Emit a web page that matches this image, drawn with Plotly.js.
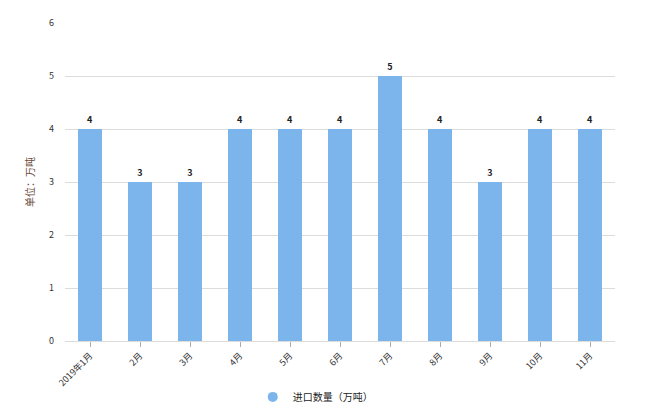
<!DOCTYPE html>
<html><head><meta charset="utf-8">
<script src="https://cdn.plot.ly/plotly-3.0.1.min.js"></script>
<style>body{margin:0;background:#fff}#c{width:650px;height:420px}</style>
</head><body><div id="c"></div>
<script>
var categories = ["2019年1月","2月","3月","4月","5月","6月","7月","8月","9月","10月","11月"];
var values = [4,3,3,4,4,4,5,4,3,4,4];
var seriesName = "进口数量（万吨）";
var yTitle = "单位：万吨";
var yTicks = [0,1,2,3,4,5,6];

var font = "Microsoft YaHei, 'Noto Sans CJK SC', sans-serif";
var barColor = "#7cb5ec";

var traces = [
  {type:"bar", x:categories, y:values, marker:{color:barColor}, showlegend:false,
   text:values.map(String), textposition:"outside", cliponaxis:false,
   textfont:{size:9, color:"#222", family:font, weight:"bold"}, hoverinfo:"x+y"},
  {type:"scatter", mode:"markers", x:[null], y:[null], name:seriesName,
   marker:{symbol:"circle", size:10, color:barColor}, showlegend:true}
];
var layout = {
  width:650, height:420,
  margin:{l:65, r:35, t:23, b:79, autoexpand:false},
  paper_bgcolor:"#fff", plot_bgcolor:"#fff",
  font:{family:font, size:9, color:"#333"},
  bargap:0.52,
  xaxis:{type:"category", tickangle:-45, ticks:"outside", ticklen:5, tickcolor:"#aaa",
         showline:false, showgrid:false, tickfont:{size:9, color:"#333"}, automargin:false},
  yaxis:{range:[0,6], tickvals:yTicks, showgrid:true, gridcolor:"#dcdcdc", gridwidth:1,
         zeroline:true, zerolinecolor:"#dcdcdc", showline:false, ticks:"", ticklen:0,
         ticklabelstandoff:10,
         tickfont:{size:9, color:"#333"},
         title:{text:yTitle, font:{size:10, color:"#6b4a3a"}, standoff:12}, automargin:false},
  legend:{orientation:"h", x:0.455, xanchor:"center", yref:"container", y:0.055, yanchor:"middle",
          font:{size:10, color:"#222"}},
  showlegend:true
};
Plotly.newPlot("c", traces, layout, {displayModeBar:false, staticPlot:true});
</script></body></html>
